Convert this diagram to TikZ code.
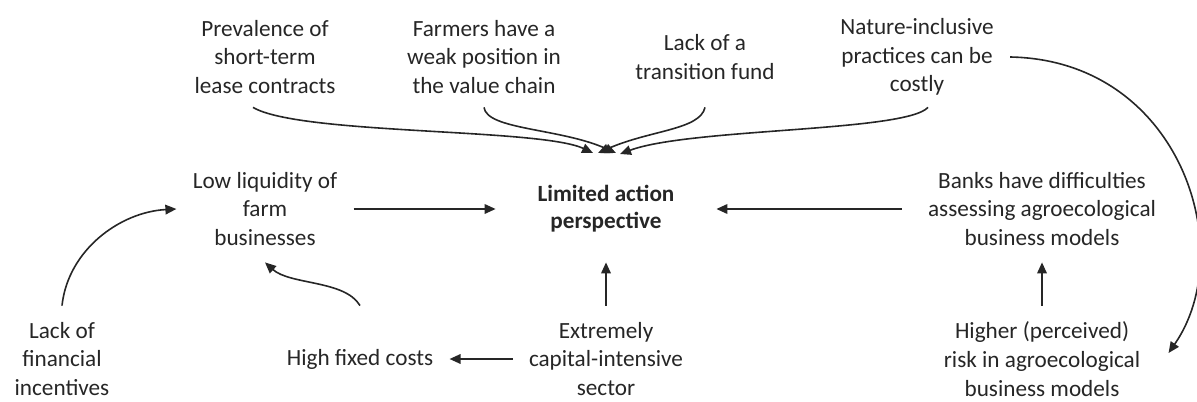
\documentclass[tikz,border=0pt]{standalone}
\usepackage{fontspec}
\setmainfont{Carlito}
\usetikzlibrary{arrows.meta}
\definecolor{ink}{RGB}{38,38,38}

\begin{document}
\begin{tikzpicture}[x=0.5pt,y=-0.5pt,font=\fontsize{11.6}{14.3}\selectfont,>={Triangle[length=5.5pt,width=4.8pt]},
  cause/.style={text=ink,align=center,inner xsep=8pt,inner ysep=1pt,minimum height=53pt},
  top/.style={cause,minimum height=50pt},
  bot/.style={cause,minimum height=53pt},
  core/.style={text=ink,align=center,inner sep=0pt,font=\fontsize{11.6}{13.5}\selectfont\bfseries,minimum width=110pt,minimum height=53pt},
  link/.style={->,line width=0.8pt,draw=ink}]
  \useasboundingbox (0,0) rectangle (1197,401);
  \node[top] (prev) at (265,57) {Prevalence of\\short-term\\lease contracts};
  \node[top] (farm) at (484,57) {Farmers have a\\weak position in\\the value chain};
  \node[top] (fund) at (705,57) {Lack of a\\transition fund};
  \node[top] (nat) at (917,57) {Nature-inclusive\\practices can be\\costly};
  \node[cause] (liq) at (265,209) {Low liquidity of\\farm\\businesses};
  \node[core] (lap) at (606,209) {Limited action\\perspective};
  \node[cause] (bank) at (1042,209) {Banks have difficulties\\assessing agroecological\\business models};
  \node[bot] (fin) at (62,359) {Lack of\\financial\\incentives};
  \node[bot] (fix) at (360,359) {High fixed costs};
  \node[bot] (cap) at (606,359) {Extremely\\capital-intensive\\sector};
  \node[bot] (risk) at (1042,359) {Higher (perceived)\\risk in agroecological\\business models};
  \coordinate (hubA) at (593,153);
  \coordinate (hubB) at (616,153);
  \coordinate (hubC) at (598,153);
  \coordinate (hubD) at (620,154);
  \draw[link] ([xshift=-6pt]prev.south) .. controls (300,135) and (540,128) .. (hubA);
  \draw[link] (farm.south) .. controls (487,130) and (560,128) .. (hubB);
  \draw[link] (fund.south) .. controls (700,130) and (650,130) .. (hubC);
  \draw[link] ([xshift=5.5pt]nat.south) .. controls (905,132) and (690,128) .. (hubD);
  \draw[link] (liq) -- (lap);
  \draw[link] ([xshift=-5pt]bank.west) -- (lap);
  \draw[link] (cap) -- (lap);
  \draw[link] (cap) -- (fix);
  \draw[link] (risk) -- (bank);
  \draw[link] (fin.north) .. controls (68,250) and (120,212) .. (liq.west);
  \draw[link] (fix.north) .. controls (345,280) and (290,285) .. (liq.south);
  \draw[link] (nat.east) .. controls (1180,60) and (1240,250) .. ([xshift=6pt,yshift=3pt]risk.east);
\end{tikzpicture}
\end{document}
